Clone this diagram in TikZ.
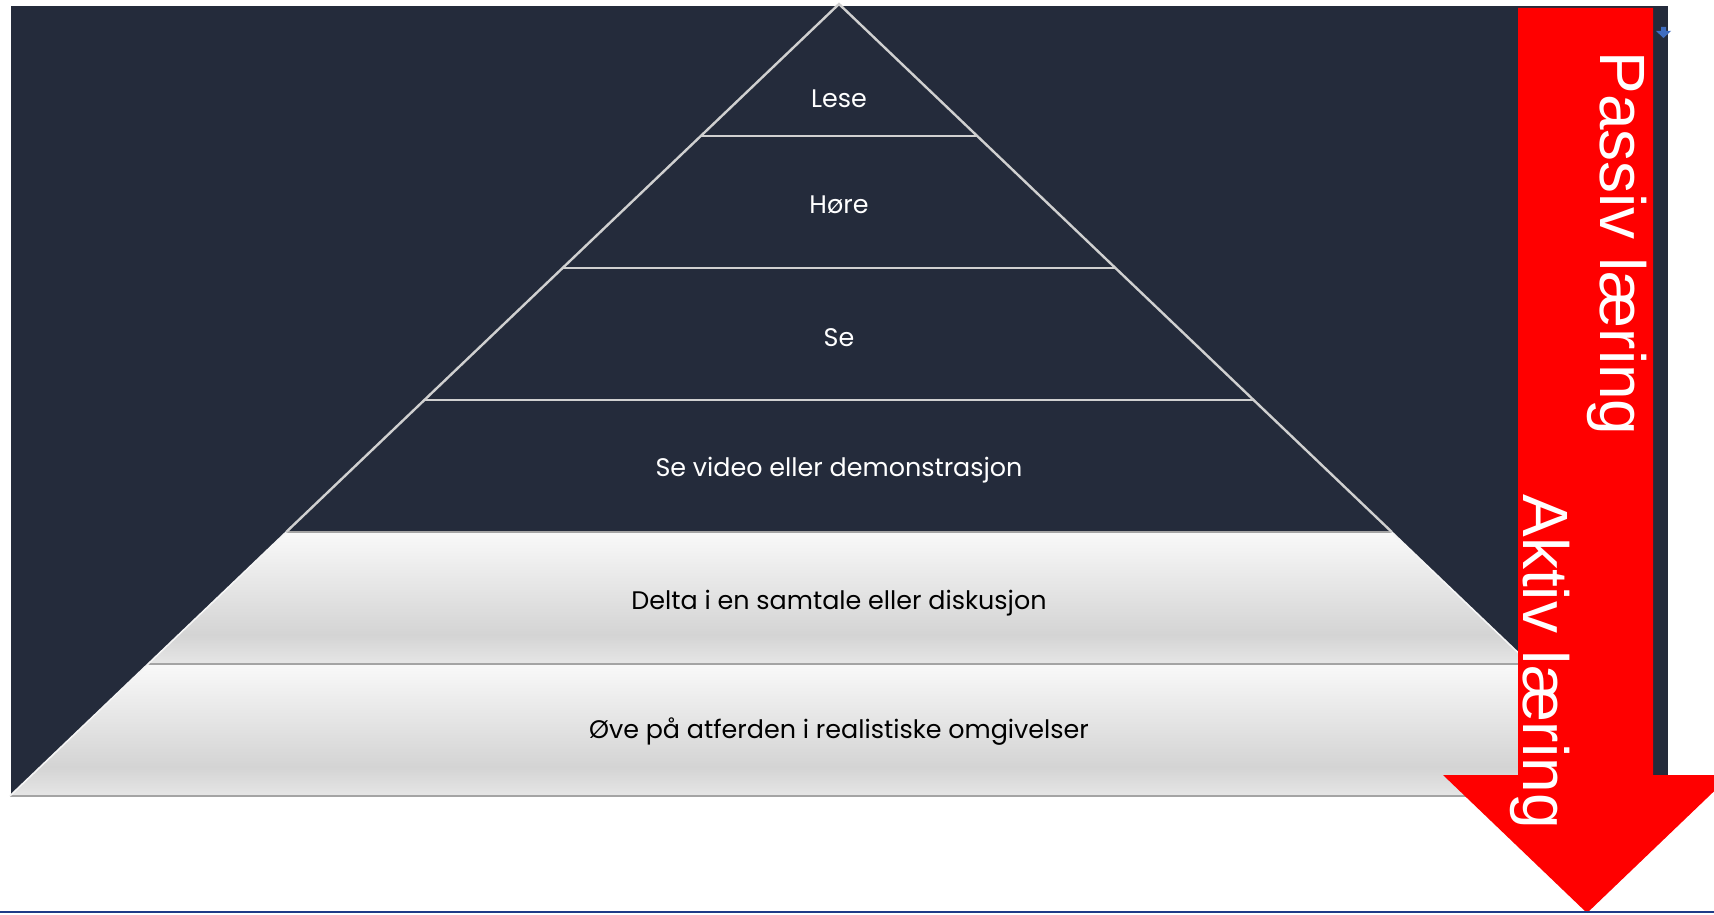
\documentclass[tikz,border=0pt]{standalone}
\usepackage{fontspec}
\setmainfont{Poppins}
\newfontfamily\arrowfont{Liberation Sans}
\usepackage{tikz}
\usetikzlibrary{calc}

\definecolor{slide}{HTML}{242B3B}
\definecolor{tierline}{HTML}{D0D0D0}
\definecolor{tiergray}{HTML}{A4A4A4}
\definecolor{tiertop}{HTML}{F9F9F9}
\definecolor{tiermid}{HTML}{D4D4D4}
\definecolor{tierlow}{HTML}{E6E6E6}
\definecolor{iconblue}{HTML}{3F6DC1}
\definecolor{rulerblue}{HTML}{1F3C88}

\pgfdeclareverticalshading{tiershade}{100bp}{color(0bp)=(tierlow); color(25bp)=(tierlow); color(36bp)=(tiermid); color(75bp)=(tiertop); color(100bp)=(tiertop)}

\tikzstyle{darktier} = [draw=tierline, line width=1.2pt, line join=miter]
\tikzstyle{graytier} = [shading=tiershade]
\tikzstyle{darklabel} = [text=white, font=\fontsize{12.7}{15}\selectfont]
\tikzstyle{graylabel} = [text=black, font=\fontsize{12.7}{15}\selectfont]
\tikzstyle{arrowlabel} = [text=white, rotate=-90, anchor=base west, inner sep=0pt, font=\arrowfont\fontsize{32}{38}\selectfont]

\begin{document}
\begin{tikzpicture}[x=0.5pt, y=-0.5pt]

\clip (0,0) rectangle (1714,915);
\fill[white] (0,0) rectangle (1714,915);
\fill[slide] (11,6) rectangle (1668,797);

% Tier corners
\coordinate (apex) at (839,4);
\coordinate (l1) at (700.8,136);
\coordinate (r1) at (977.2,136);
\coordinate (l2) at (562.6,268);
\coordinate (r2) at (1115.4,268);
\coordinate (l3) at (424.4,400);
\coordinate (r3) at (1253.6,400);
\coordinate (l4) at (286.2,532);
\coordinate (r4) at (1391.8,532);
\coordinate (l5) at (148,664);
\coordinate (r5) at (1530,664);
\coordinate (l6) at (9.8,796);
\coordinate (r6) at (1668.2,796);

% Gray tiers
\path [graytier] (l4) -- (r4) -- (r5) -- (l5) -- cycle;
\path [graytier] (l5) -- (r5) -- (r6) -- (l6) -- cycle;
\draw [tiergray, line width=0.6pt] (l4) -- (r4);
\draw [tiergray, line width=1pt] (l5) -- (r5);
\draw [tiergray, line width=1.2pt] (l6) -- (r6);
\draw [white!92!gray, line width=0.8pt] (l4) -- (l6);
\draw [white!92!gray, line width=0.8pt] (r4) -- (r6);

% Dark tiers
\draw [darktier] (l4) -- (apex) -- (r4);
\draw [darktier] (l1) -- (r1);
\draw [darktier] (l2) -- (r2);
\draw [darktier] (l3) -- (r3);

% Labels
\node (lese) [darklabel] at (839,99) {Lese};
\node (hore) [darklabel] at (839,205) {Høre};
\node (se) [darklabel] at (839,338) {Se};
\node (video) [darklabel] at (839,470) {Se video eller demonstrasjon};
\node (delta) [graylabel] at (839,603) {Delta i en samtale eller diskusjon};
\node (ove) [graylabel] at (839,732) {Øve på atferden i realistiske omgivelser};

% Arrow
\fill [red] (1518,8) -- (1653,8) -- (1653,775) -- (1731,775) -- (1587,913)
  -- (1443,775) -- (1518,775) -- cycle;
\node (passiv) [arrowlabel] at (1600,51) {Passiv læring};
\node (aktiv) [arrowlabel] at (1523,494) {Aktiv læring};

% Icon and rule
\fill [iconblue] (1661,27) -- (1666,27) -- (1666,31) -- (1671,31) -- (1663.5,38)
  -- (1656,31) -- (1661,31) -- cycle;
\draw [rulerblue, line width=1pt] (0,912) -- (1714,912);

\end{tikzpicture}
\end{document}
